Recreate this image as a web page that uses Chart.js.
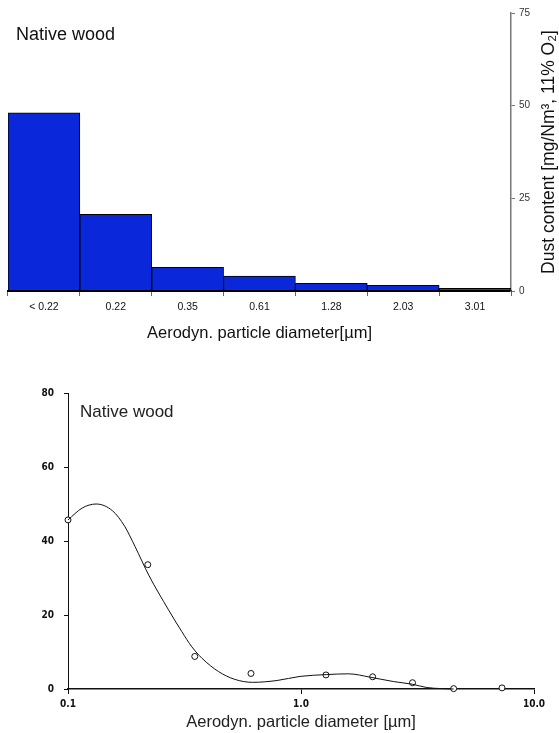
<!DOCTYPE html>
<html lang="en">
<head>
<meta charset="UTF-8">
<title>Native wood dust</title>
<script src="https://cdn.jsdelivr.net/npm/chart.js@4"></script>
<style>
  html, body { margin: 0; padding: 0; background: #fff; }
  .box { position: absolute; left: 0; }
</style>
</head>
<body>
<div class="box" style="top:0"><canvas id="bars" width="559" height="350"></canvas></div>
<div class="box" style="top:350px"><canvas id="curve" width="559" height="383"></canvas></div>

<script>
// top chart: histogram
const barLabels = ['< 0.22', '0.22', '0.35', '0.61', '1.28', '2.03', '3.01'];
const barValues = [48.1, 20.7, 6.4, 4.0, 2.1, 1.55, 0.7];
const barTicks = [0, 25, 50, 75];

// bottom chart: measured points and fitted curve
const pointX = [0.1, 0.22, 0.35, 0.61, 1.28, 2.03, 3.01, 4.52, 7.29];
const pointY = [45.7, 33.6, 8.8, 4.2, 3.8, 3.3, 1.7, 0.1, 0.3];
const curveX = [0.1, 0.115, 0.132, 0.155, 0.175, 0.194, 0.222, 0.27, 0.308, 0.34, 0.376, 0.443, 0.52, 0.62, 0.79, 0.99, 1.29, 1.6, 1.98, 2.5, 3.0, 3.47, 4.52];
const curveY = [45.7, 48.9, 50.0, 48.2, 44.0, 38.5, 30.8, 21.4, 15.5, 11.4, 8.3, 4.7, 2.6, 1.8, 2.3, 3.4, 3.9, 4.1, 3.2, 2.0, 1.3, 0.4, 0.0];
const logTicks = [0.1, 1, 10];
const curveTicks = [0, 20, 40, 60, 80];

// free text on the canvas (annotation + right axis title reading upwards)
const textPlugin = {
  id: 'freeText',
  afterDraw(chart, args, opts) {
    const ctx = chart.ctx;
    (opts.items || []).forEach(t => {
      ctx.save();
      ctx.font = t.font;
      ctx.fillStyle = t.color || '#000';
      ctx.textAlign = t.align || 'left';
      ctx.textBaseline = 'middle';
      let y = t.y === 'mid' ? (chart.chartArea.top + chart.chartArea.bottom) / 2 : t.y;
      ctx.translate(t.x, y);
      if (t.rotate) ctx.rotate(t.rotate);
      ctx.fillText(t.text, 0, 0);
      ctx.restore();
    });
  }
};

new Chart(document.getElementById('bars'), {
  type: 'bar',
  data: {
    labels: barLabels,
    datasets: [{
      data: barValues,
      backgroundColor: '#0a28d9',
      borderColor: '#000',
      borderWidth: 1,
      borderSkipped: false,
      categoryPercentage: 1,
      barPercentage: 1
    }]
  },
  options: {
    responsive: false,
    animation: false,
    layout: { padding: { left: 8, top: 13, right: 0, bottom: 0 } },
    plugins: {
      legend: { display: false },
      tooltip: { enabled: false },
      freeText: {
        items: [
          { text: 'Native wood', x: 16, y: 35, font: '18px "Liberation Sans"', color: '#111' },
          { text: 'Dust content [mg/Nm³, 11% O₂]', x: 549, y: 'mid', align: 'center', rotate: -Math.PI / 2, font: '17.5px "Liberation Sans"', color: '#111' }
        ]
      }
    },
    scales: {
      x: {
        afterFit: s => { s.height = 59; },
        grid: { offset: true, drawOnChartArea: false, tickLength: 5, color: '#666' },
        border: { color: '#000', width: 2 },
        ticks: { color: '#111', font: { family: 'Liberation Sans', size: 10.5 }, padding: 5, maxRotation: 0 },
        title: { display: true, text: 'Aerodyn. particle diameter[µm]', color: '#111', font: { family: 'Liberation Sans', size: 16.5 }, padding: { top: 0, bottom: 7 } }
      },
      y: {
        position: 'right',
        min: 0, max: 75,
        afterFit: s => { s.width = 48; },
        afterBuildTicks: s => { s.ticks = barTicks.map(v => ({ value: v })); },
        grid: { drawOnChartArea: false, tickLength: 4, color: '#777' },
        border: { color: '#777', width: 1.5 },
        ticks: { color: '#333', font: { family: 'Liberation Sans', size: 10 }, padding: 4 }
      }
    }
  },
  plugins: [textPlugin]
});

new Chart(document.getElementById('curve'), {
  type: 'scatter',
  data: {
    datasets: [{
      data: curveX.map((x, i) => ({ x: x, y: curveY[i] })),
      showLine: true,
      borderColor: '#111',
      borderWidth: 1,
      cubicInterpolationMode: 'monotone',
      pointRadius: 0,
      clip: false
    }, {
      data: pointX.map((x, i) => ({ x: x, y: pointY[i] })),
      pointRadius: 3,
      pointBackgroundColor: '#fff',
      pointBorderColor: '#111',
      pointBorderWidth: 1,
      clip: false
    }]
  },
  options: {
    responsive: false,
    animation: false,
    layout: { padding: { left: 0, top: 43, right: 25, bottom: 0 } },
    plugins: {
      legend: { display: false },
      tooltip: { enabled: false },
      freeText: {
        items: [
          { text: 'Native wood', x: 80, y: 62, font: '17px "Liberation Sans"', color: '#222' }
        ]
      }
    },
    scales: {
      x: {
        type: 'logarithmic',
        min: 0.1, max: 10,
        afterFit: s => { s.height = 44; },
        afterBuildTicks: s => { s.ticks = logTicks.map(v => ({ value: v })); },
        grid: { drawOnChartArea: false, tickLength: 5, color: '#111' },
        border: { color: '#111', width: 1.5 },
        ticks: {
          color: '#111', padding: 4, maxRotation: 0,
          font: { family: 'DejaVu Sans Condensed', size: 10, weight: 'bold' },
          callback: v => Number(v).toFixed(1)
        },
        title: { display: true, text: 'Aerodyn. particle diameter [µm]', color: '#222', font: { family: 'Liberation Sans', size: 16.5 }, padding: { top: 0, bottom: 1 } }
      },
      y: {
        min: 0, max: 80,
        afterFit: s => { s.width = 68; },
        afterBuildTicks: s => { s.ticks = curveTicks.map(v => ({ value: v })); },
        grid: { drawOnChartArea: false, tickLength: 4, color: '#111' },
        border: { color: '#111', width: 1 },
        ticks: { color: '#111', padding: 10, font: { family: 'DejaVu Sans Condensed', size: 10, weight: 'bold' } }
      }
    }
  },
  plugins: [textPlugin]
});
</script>
</body>
</html>
